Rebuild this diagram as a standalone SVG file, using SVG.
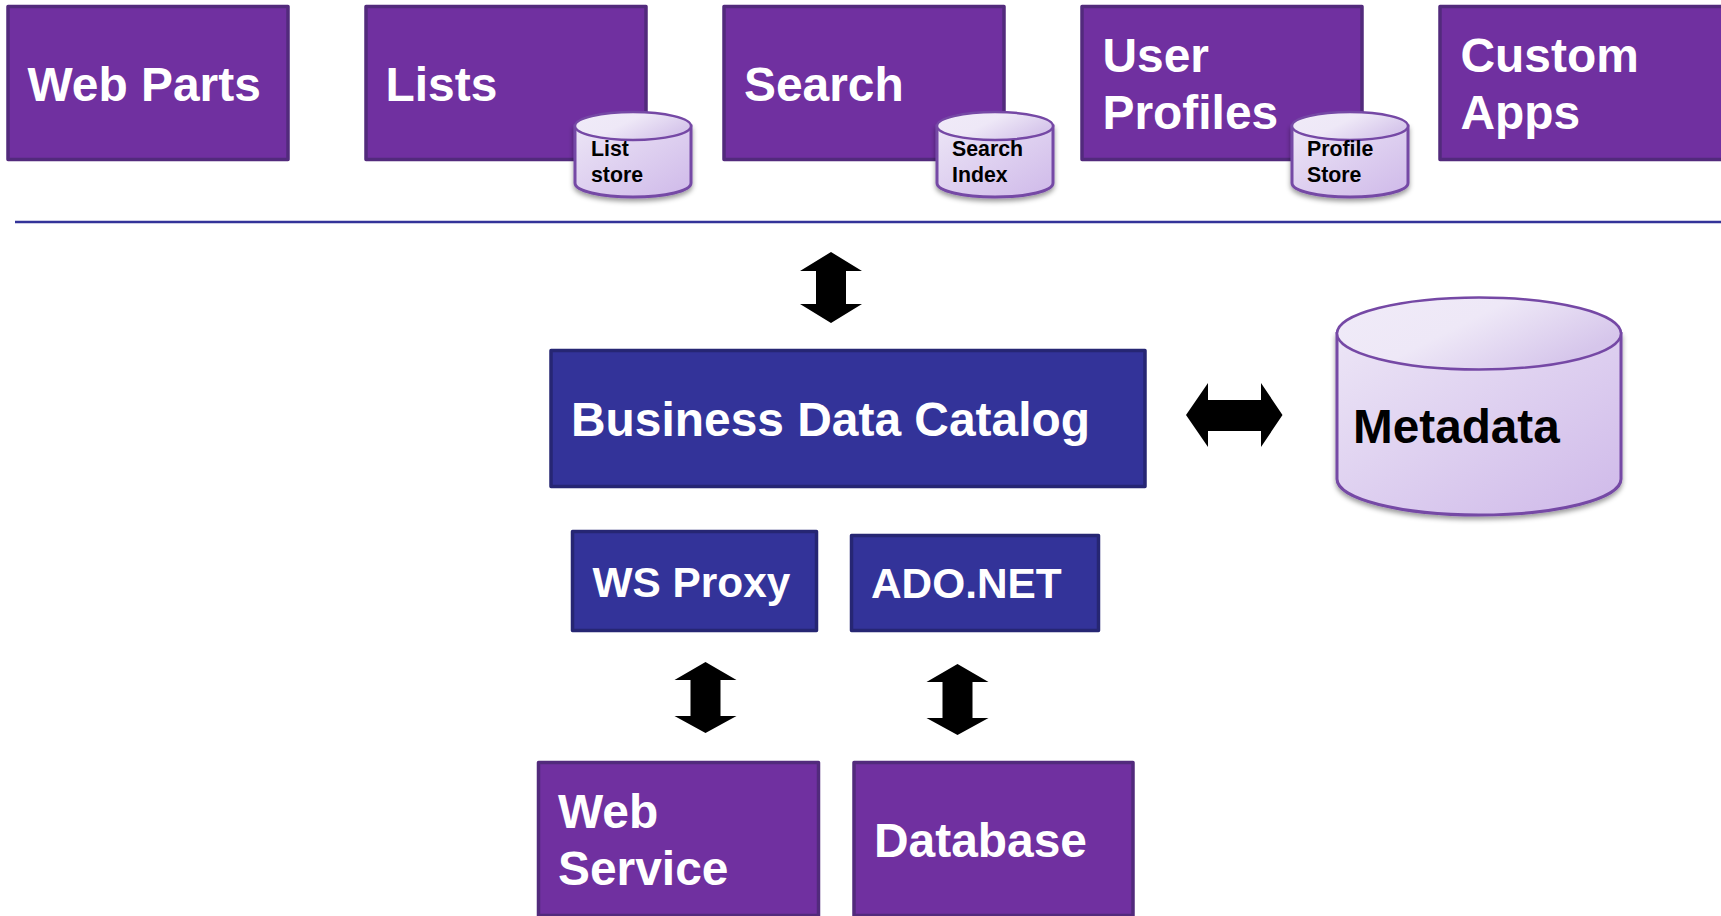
<svg xmlns="http://www.w3.org/2000/svg" width="1721" height="916" viewBox="0 0 1721 916">
<style>
text{font-family:"Liberation Sans",Arial,sans-serif;font-weight:700}
.p{fill:#7030a0;stroke:#522a7c;stroke-width:3.500;stroke-linejoin:round}
.b{fill:#333399;stroke:#262673;stroke-width:3.500;stroke-linejoin:round}
.t{fill:#fff;font-size:47.900px}
.m{fill:#fff;font-size:42.400px}
.s{fill:#000;font-size:21.300px}
.body{fill:url(#gb);stroke:#7548a5;stroke-width:3;filter:url(#sh)}
.top{fill:url(#gt);stroke:#7548a5;stroke-width:2.500}
.a{fill:#000}
</style>
<defs>
<linearGradient id="gb" x1="0" y1="0" x2="1" y2="1"><stop offset="0" stop-color="#ece5f6"/><stop offset="0.55" stop-color="#dccdef"/><stop offset="1" stop-color="#cfb9e9"/></linearGradient>
<linearGradient id="gt" x1="0" y1="0" x2="1" y2="0.5"><stop offset="0" stop-color="#f0ebf8"/><stop offset="0.5" stop-color="#eee8f7"/><stop offset="1" stop-color="#d6c6eb"/></linearGradient>
<filter id="sh" x="-10%" y="-10%" width="120%" height="125%"><feDropShadow dx="0" dy="3" stdDeviation="2.500" flood-color="#000" flood-opacity="0.4"/></filter>
</defs>
<rect width="1721" height="916" fill="#fff"/>
<g id="web-parts"><rect class="p" x="8" y="6.500" width="280" height="153"/><text class="t" x="27.500" y="101">Web Parts</text></g>
<g id="lists"><rect class="p" x="366" y="6.500" width="280" height="153"/><text class="t" x="385.500" y="101">Lists</text></g>
<g id="search"><rect class="p" x="724" y="6.500" width="280" height="153"/><text class="t" x="744" y="101">Search</text></g>
<g id="user-profiles"><rect class="p" x="1082" y="6.500" width="280" height="153"/><text class="t" x="1102.500" y="72">User</text><text class="t" x="1102.500" y="129">Profiles</text></g>
<g id="custom-apps"><rect class="p" x="1440" y="6.500" width="290" height="153"/><text class="t" x="1460.500" y="72">Custom</text><text class="t" x="1460.500" y="129">Apps</text></g>
<g id="list-store"><path class="body" d="M575 126V183C575 191 600.500 197 633 197S691 191 691 183V126Z"/><ellipse class="top" cx="633" cy="126" rx="58" ry="14"/><text class="s" x="591" y="156">List</text><text class="s" x="591" y="182">store</text></g>
<g id="search-index"><path class="body" d="M937 126V183C937 191 962.500 197 995 197S1053 191 1053 183V126Z"/><ellipse class="top" cx="995" cy="126" rx="58" ry="14"/><text class="s" x="952" y="156">Search</text><text class="s" x="952" y="182">Index</text></g>
<g id="profile-store"><path class="body" d="M1292 126V183C1292 191 1317.500 197 1350 197S1408 191 1408 183V126Z"/><ellipse class="top" cx="1350" cy="126" rx="58" ry="14"/><text class="s" x="1307" y="156">Profile</text><text class="s" x="1307" y="182">Store</text></g>
<g id="business-data-catalog"><rect class="b" x="551" y="350.500" width="594" height="136"/><text class="t" x="571" y="436">Business Data Catalog</text></g>
<g id="metadata"><path class="body" d="M1337 333.500V479C1337 499 1401 515 1479 515S1621 499 1621 479V333.500Z"/><ellipse class="top" cx="1479" cy="333.500" rx="142" ry="36"/><text x="1353" y="443" style="fill:#000;font-size:47.700px">Metadata</text></g>
<g id="ws-proxy"><rect class="b" x="572.500" y="531.500" width="244" height="99"/><text class="m" x="592.500" y="597">WS Proxy</text></g>
<g id="ado-net"><rect class="b" x="851.500" y="535.500" width="247" height="95"/><text class="m" x="871" y="598">ADO.NET</text></g>
<g id="web-service"><rect class="p" x="538.500" y="762.500" width="280" height="153"/><text class="t" x="558" y="828">Web</text><text class="t" x="558" y="885">Service</text></g>
<g id="database"><rect class="p" x="854" y="762.500" width="279" height="153"/><text class="t" x="874" y="857">Database</text></g>
<line id="divider" x1="15" y1="222" x2="1721" y2="222" stroke="#333399" stroke-width="2.500"/>
<g id="connectors">
<polygon class="a" points="831,252 862,271 846,271 846,304 862,304 831,323 800,304 816,304 816,271 800,271"/>
<polygon class="a" points="705.500,662 736.500,680 720.500,680 720.500,716 736.500,716 705.500,733 674.500,716 690.500,716 690.500,680 674.500,680"/>
<polygon class="a" points="957.500,664 988.500,682 972.500,682 972.500,718 988.500,718 957.500,735 926.500,718 942.500,718 942.500,682 926.500,682"/>
<polygon class="a" points="1186,415 1208,383 1208,400 1261,400 1261,383 1282.500,415 1261,447 1261,431 1208,431 1208,447"/>
</g>
</svg>
